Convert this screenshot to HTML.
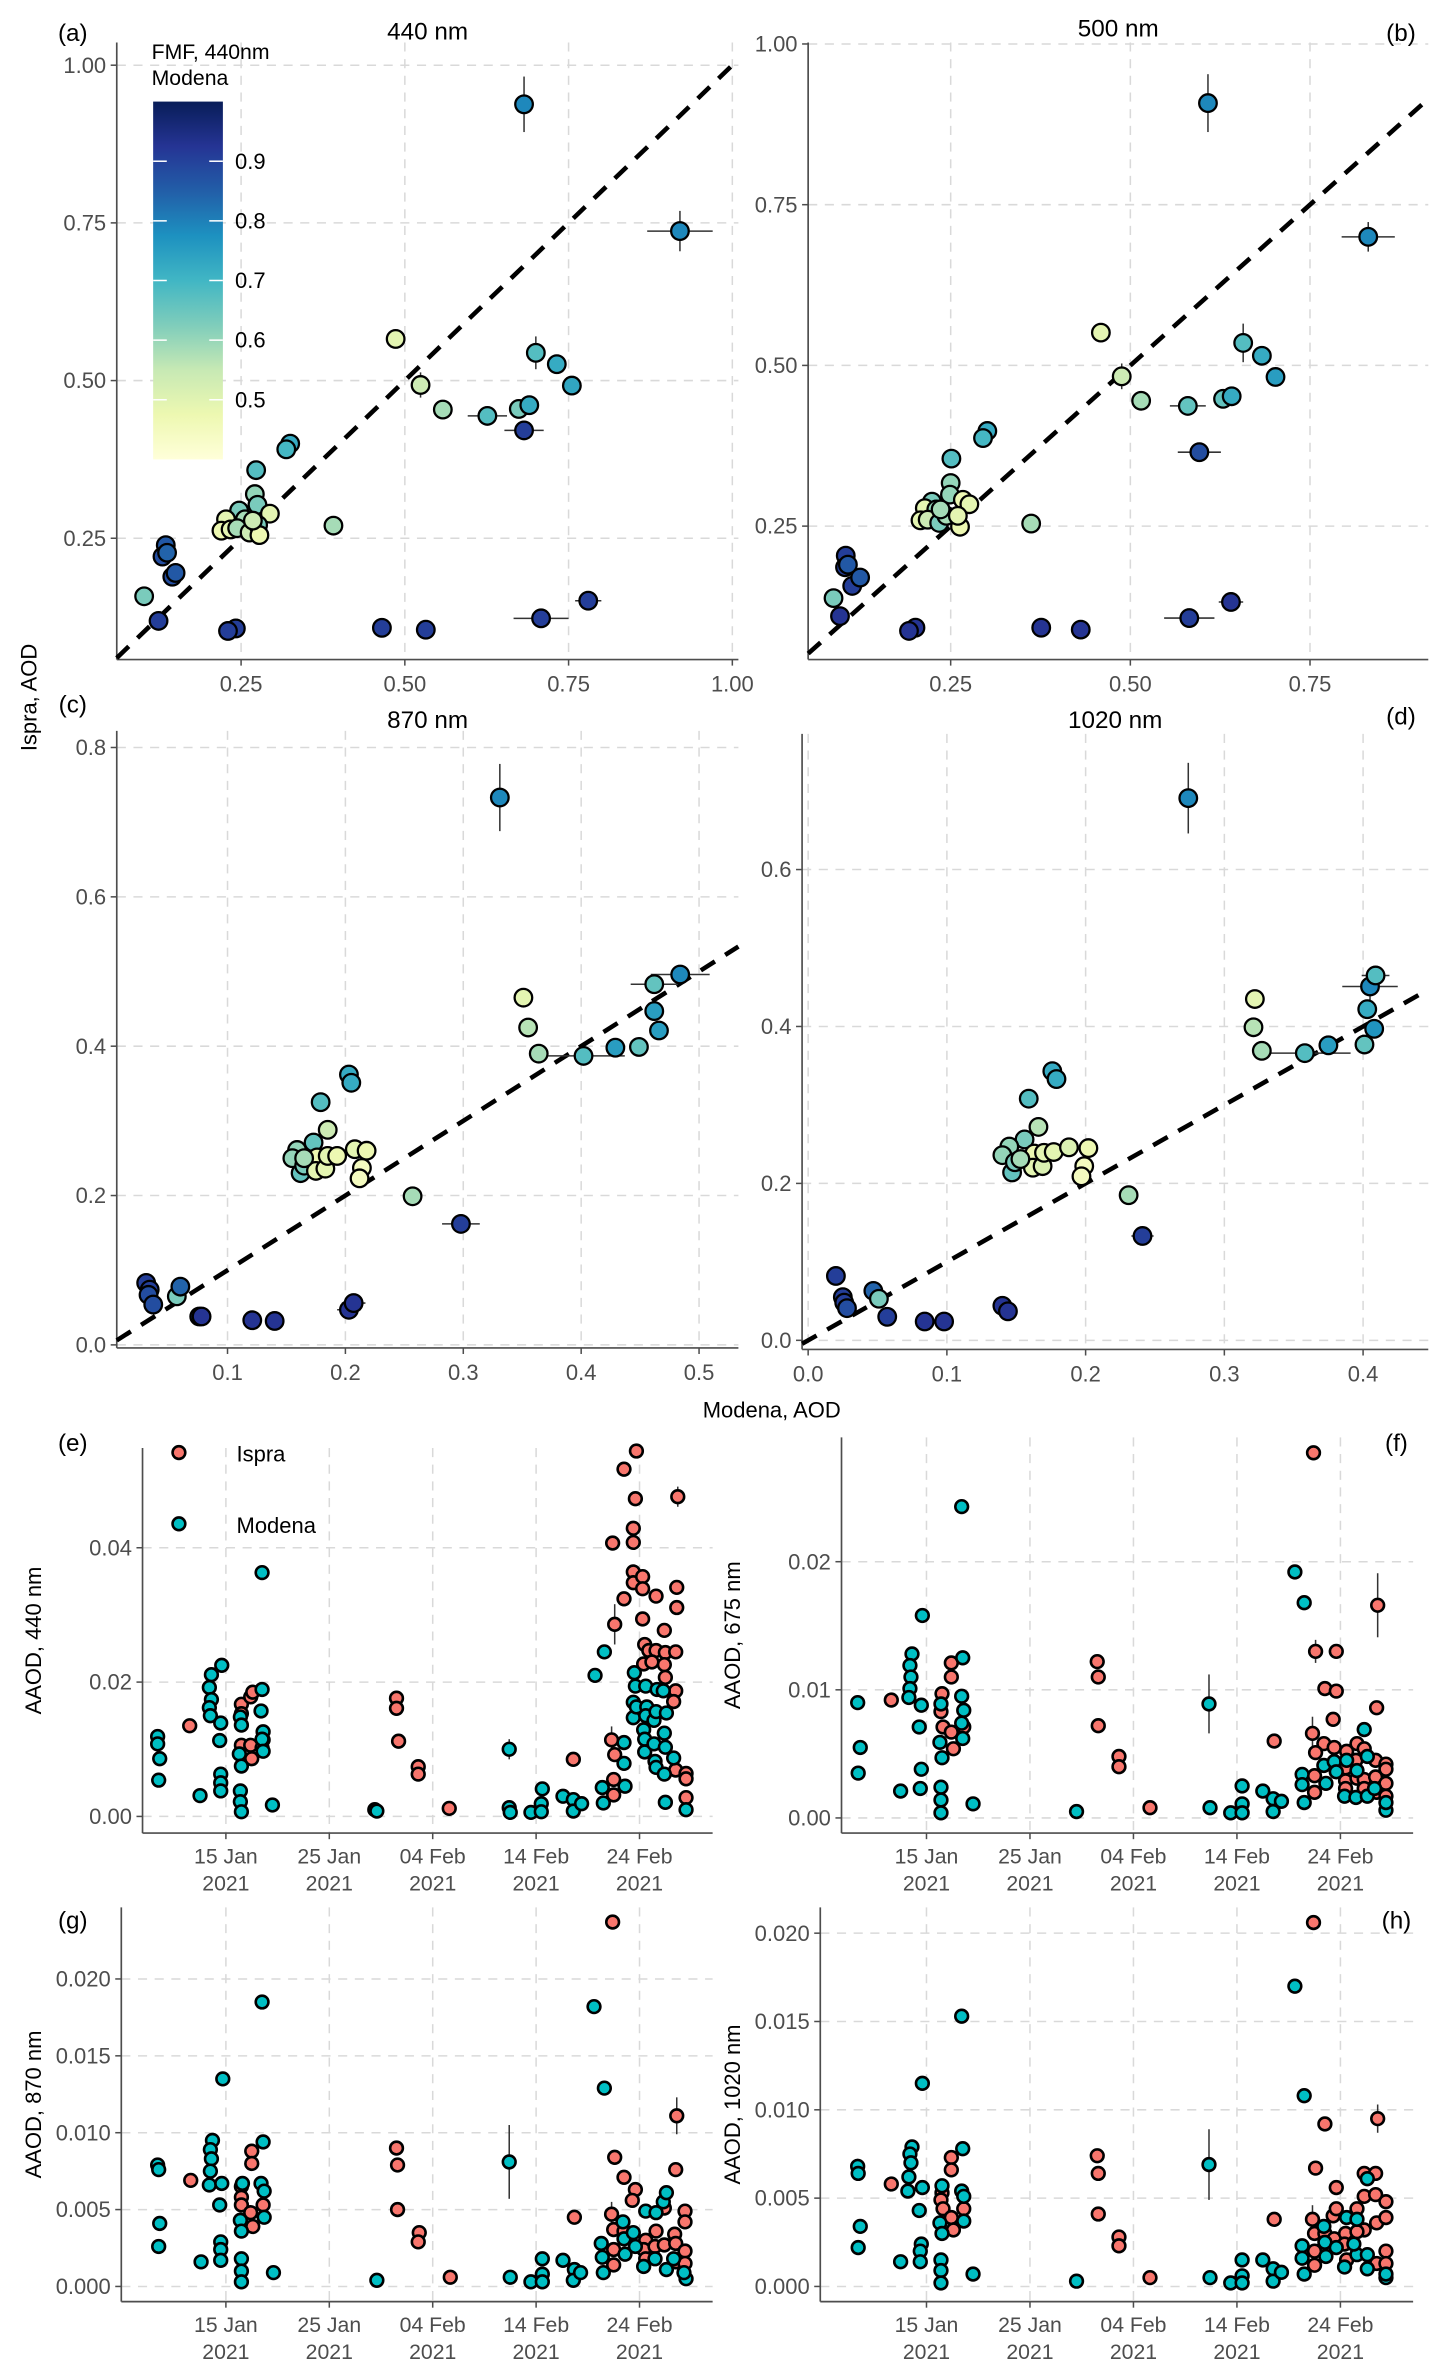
<!DOCTYPE html>
<html><head><meta charset="utf-8">
<style>
html,body{margin:0;padding:0;background:#fff;}
svg{display:block;font-family:"Liberation Sans",Arial,sans-serif;}
</style></head>
<body>
<svg id="fig" xmlns="http://www.w3.org/2000/svg" width="1448" height="2380" viewBox="0 0 955 1569.7">
<defs>
<linearGradient id="cbar" x1="0" y1="1" x2="0" y2="0">
<stop offset="0" stop-color="#ffffd9"/><stop offset="0.125" stop-color="#edf8b1"/><stop offset="0.25" stop-color="#c7e9b4"/><stop offset="0.375" stop-color="#7fcdbb"/><stop offset="0.5" stop-color="#41b6c4"/><stop offset="0.625" stop-color="#1d91c0"/><stop offset="0.75" stop-color="#225ea8"/><stop offset="0.875" stop-color="#253494"/><stop offset="1" stop-color="#081d58"/>
</linearGradient>
</defs>
<g id="root"></g>
</svg>
<script>
// ===== DATA: scatter panels [Modena AOD, Ispra AOD, FMF, xerr, yerr]
const aod440 = [[0.682,0.938,0.82,0,0.044],[0.920,0.737,0.82,0.05,0.032],[0.486,0.566,0.5],[0.524,0.493,0.55,0,0.02],[0.558,0.454,0.6],[0.700,0.544,0.7,0.01,0.026],[0.732,0.526,0.75],[0.755,0.492,0.76],[0.626,0.444,0.7,0.03],[0.674,0.455,0.65],[0.690,0.461,0.75],[0.682,0.421,0.95,0.03],[0.780,0.151,0.95,0.02],[0.708,0.123,0.95,0.042],[0.532,0.105,0.95],[0.465,0.108,0.95],[0.242,0.107,0.95],[0.230,0.103,0.95],[0.124,0.119,0.95],[0.102,0.158,0.65],[0.145,0.189,0.92],[0.150,0.195,0.9],[0.135,0.239,0.9],[0.130,0.221,0.92],[0.137,0.227,0.88],[0.325,0.400,0.75],[0.319,0.391,0.72],[0.273,0.358,0.7],[0.271,0.320,0.62],[0.275,0.303,0.65],[0.294,0.289,0.5],[0.391,0.270,0.6],[0.247,0.294,0.65],[0.227,0.280,0.5],[0.256,0.280,0.6],[0.220,0.262,0.48],[0.234,0.264,0.5],[0.244,0.266,0.6],[0.263,0.259,0.55],[0.276,0.271,0.65],[0.278,0.255,0.48],[0.268,0.278,0.55]];
const aod500 = [[0.608,0.908,0.82,0,0.045],[0.831,0.700,0.82,0.037,0.023],[0.459,0.551,0.5],[0.488,0.483,0.55,0,0.02],[0.515,0.445,0.6],[0.657,0.535,0.7,0.01,0.03],[0.683,0.515,0.75],[0.702,0.482,0.78],[0.580,0.437,0.68,0.025],[0.629,0.448,0.68],[0.641,0.452,0.75],[0.596,0.365,0.92,0.03],[0.582,0.107,0.95,0.035],[0.640,0.132,0.97,0.017],[0.376,0.092,0.97],[0.431,0.089,0.97],[0.201,0.092,0.97],[0.192,0.087,0.97],[0.096,0.110,0.97],[0.087,0.138,0.65],[0.113,0.157,0.95],[0.124,0.170,0.9],[0.104,0.204,0.95],[0.103,0.186,0.95],[0.107,0.190,0.9],[0.301,0.398,0.75],[0.295,0.387,0.72],[0.251,0.355,0.7],[0.250,0.317,0.62],[0.249,0.299,0.62],[0.267,0.291,0.48],[0.276,0.284,0.5],[0.362,0.254,0.6],[0.224,0.288,0.65],[0.214,0.278,0.5],[0.230,0.276,0.62],[0.208,0.259,0.5],[0.218,0.260,0.55],[0.234,0.255,0.65],[0.244,0.266,0.6],[0.263,0.249,0.48],[0.260,0.266,0.5],[0.236,0.276,0.6]];
const aod870 = [[0.331,0.733,0.82,0,0.045],[0.351,0.465,0.5],[0.355,0.425,0.58],[0.364,0.390,0.6],[0.402,0.387,0.7,0.035],[0.429,0.398,0.78],[0.449,0.399,0.68,0,0.01],[0.462,0.483,0.68,0.02,0.01],[0.462,0.447,0.78],[0.466,0.421,0.78],[0.484,0.496,0.82,0.025,0.01],[0.298,0.162,0.95,0.016],[0.257,0.199,0.6],[0.031,0.083,0.95],[0.034,0.074,0.95],[0.033,0.067,0.92],[0.037,0.054,0.92],[0.057,0.065,0.65],[0.060,0.078,0.88],[0.076,0.038,0.95],[0.078,0.038,0.97],[0.121,0.033,0.97],[0.140,0.032,0.97],[0.203,0.047,0.97,0.01],[0.207,0.056,0.97,0.01],[0.203,0.362,0.75],[0.205,0.351,0.75],[0.179,0.325,0.7],[0.185,0.288,0.55],[0.173,0.271,0.68],[0.159,0.261,0.62],[0.155,0.250,0.62],[0.162,0.230,0.68],[0.165,0.240,0.65],[0.176,0.251,0.48],[0.175,0.233,0.5],[0.183,0.236,0.5],[0.185,0.253,0.5],[0.193,0.253,0.48],[0.208,0.262,0.5],[0.218,0.260,0.48],[0.214,0.237,0.45],[0.212,0.223,0.45],[0.165,0.250,0.6]];
const aod1020 = [[0.274,0.691,0.82,0,0.045],[0.322,0.435,0.5],[0.321,0.399,0.58,0,0.01],[0.327,0.369,0.6],[0.358,0.366,0.7,0.033],[0.375,0.376,0.78],[0.401,0.377,0.68],[0.408,0.397,0.8],[0.403,0.422,0.75],[0.405,0.451,0.82,0.02,0.02],[0.409,0.465,0.7,0.01],[0.231,0.185,0.6],[0.241,0.133,0.95,0.008],[0.020,0.082,0.95],[0.025,0.055,0.95],[0.026,0.048,0.95],[0.028,0.041,0.92],[0.047,0.063,0.88],[0.051,0.053,0.65],[0.057,0.030,0.95],[0.084,0.024,0.97],[0.098,0.024,0.97],[0.140,0.044,0.97],[0.144,0.037,0.97],[0.176,0.343,0.75],[0.179,0.333,0.75],[0.159,0.308,0.7],[0.166,0.272,0.58],[0.156,0.256,0.65],[0.145,0.247,0.62],[0.140,0.236,0.62],[0.147,0.214,0.68],[0.149,0.227,0.65],[0.163,0.238,0.48],[0.162,0.220,0.5],[0.169,0.222,0.52],[0.170,0.239,0.5],[0.177,0.240,0.5],[0.188,0.246,0.52],[0.202,0.245,0.48],[0.199,0.222,0.45],[0.197,0.209,0.45],[0.153,0.231,0.6]];
// ===== DATA: time series [day of year (Jan 1 = 0), AAOD, err]
const ispra440 = [[10.5,0.0135],[15.5,0.0167],[15.5,0.0153],[16.4,0.0178],[16.5,0.0086],[15.5,0.0106],[16.4,0.0106],[17.5,0.0102],[16.6,0.0185],[17.6,0.0114],[30.5,0.0176],[30.5,0.0161],[30.7,0.0112],[32.6,0.0074],[32.6,0.0063],[35.6,0.0012],[47.6,0.0085],[51.4,0.0407],[52.5,0.0517],[53.7,0.0544],[53.6,0.0473],[53.4,0.0429],[53.4,0.0408],[53.4,0.0364],[53.4,0.0348],[54.3,0.0357],[54.3,0.0339],[52.5,0.0324],[51.6,0.0286,0.003],[54.3,0.0294],[55.6,0.0328],[56.4,0.0277],[57.7,0.0476,0.0015],[57.6,0.0341],[57.6,0.0311],[54.5,0.0256],[54.9,0.0247],[55.6,0.0247],[56.5,0.0244],[57.5,0.0245],[54.4,0.0227],[56.4,0.0226],[56.5,0.0207],[57.5,0.0187],[57.3,0.0171],[51.3,0.0114,0.002],[51.6,0.0092],[51.5,0.0055],[51.5,0.0032],[57.5,0.0069],[58.5,0.0064],[58.5,0.0056],[58.5,0.0028],[55.2,0.023]];
const modena440 = [[7.4,0.0119],[7.4,0.0108],[7.6,0.0086],[7.5,0.0054],[11.5,0.0031],[12.6,0.0211],[12.4,0.0192],[12.6,0.0174],[12.4,0.0162],[12.5,0.0150],[13.6,0.0225],[13.5,0.0139],[13.4,0.0113],[13.5,0.0063],[13.5,0.0050],[13.5,0.0038],[15.4,0.0148],[15.5,0.0136],[15.3,0.0093],[15.5,0.0075],[15.4,0.0038],[15.4,0.0022],[15.5,0.0007],[17.5,0.0363],[17.5,0.0189],[17.4,0.0157],[17.6,0.0126],[17.5,0.0115],[17.6,0.0097],[18.5,0.0017],[28.4,0.0010],[28.6,0.0008],[41.4,0.0100,0.0015],[41.4,0.0013],[41.5,0.0006],[43.5,0.0006],[44.6,0.0041],[44.5,0.0019],[44.5,0.0007],[46.6,0.0030],[47.6,0.0025],[47.6,0.0008],[48.4,0.0019],[49.7,0.0210],[50.6,0.0245],[50.4,0.0043],[50.5,0.0020],[52.5,0.0110],[52.5,0.0079],[52.6,0.0045],[53.5,0.0214],[53.6,0.0194],[53.4,0.0170],[53.4,0.0147],[53.7,0.0163],[54.6,0.0194],[54.7,0.0163],[54.6,0.0150],[54.4,0.0129],[54.5,0.0115],[54.5,0.0096],[55.4,0.0143],[55.4,0.0108],[55.5,0.0082],[55.6,0.0073],[55.7,0.0189],[55.6,0.0156],[56.3,0.0187],[56.4,0.0124],[56.5,0.0103],[56.4,0.0063],[56.6,0.0154],[56.5,0.0021],[57.3,0.0087],[58.5,0.0010]];
const ispra675 = [[10.6,0.0092],[15.5,0.0097],[15.4,0.0083],[15.6,0.0071],[16.4,0.0121],[16.4,0.0110],[16.4,0.0067],[16.6,0.0054],[17.6,0.0071],[30.5,0.0122],[30.6,0.0110],[30.6,0.0072],[32.6,0.0048],[32.6,0.0040],[35.6,0.0008],[47.6,0.0060],[51.4,0.0285],[51.6,0.0130,0.0009],[53.6,0.0130],[52.5,0.0101],[53.6,0.0099],[53.3,0.0077],[51.3,0.0066,0.0013],[52.4,0.0058],[51.6,0.0051],[51.5,0.0033],[51.5,0.0020],[53.4,0.0055],[54.6,0.0052],[54.5,0.0039],[54.5,0.0029],[54.5,0.0023],[55.6,0.0058],[56.3,0.0054],[55.5,0.0045],[55.6,0.0031],[56.3,0.0030],[56.3,0.0023],[57.4,0.0045],[57.4,0.0032],[57.5,0.0020],[57.6,0.0166,0.0025],[57.5,0.0086],[58.4,0.0042],[58.4,0.0038],[58.4,0.0027],[58.4,0.0017]];
const modena675 = [[7.35,0.0090],[7.6,0.0055],[7.4,0.0035],[11.5,0.0021],[12.6,0.0128],[12.4,0.0119],[12.5,0.0110],[12.4,0.0101],[12.3,0.0094],[13.6,0.0158],[13.5,0.0088],[13.3,0.0071],[13.5,0.0038],[13.4,0.0023],[15.4,0.0089],[15.3,0.0059],[15.5,0.0047],[15.4,0.0024],[15.4,0.0014],[15.4,0.0004],[17.4,0.0243],[17.5,0.0125],[17.4,0.0095],[17.6,0.0084],[17.4,0.0074],[17.5,0.0062],[18.5,0.0011],[28.5,0.0005],[41.3,0.0089,0.0023],[41.4,0.0008],[43.4,0.0004],[44.5,0.0025],[44.5,0.0011],[44.5,0.0004],[46.5,0.0021],[47.5,0.0015],[47.5,0.0005],[48.3,0.0013],[49.6,0.0192],[50.5,0.0168],[50.3,0.0034],[50.3,0.0026],[50.5,0.0012],[52.4,0.0041],[52.6,0.0027],[53.4,0.0044],[53.6,0.0036],[54.6,0.0045],[54.4,0.0017],[55.6,0.0037],[55.5,0.0016],[56.3,0.0069],[56.6,0.0048],[56.6,0.0017],[57.3,0.0023],[58.4,0.0006],[58.4,0.0012]];
const ispra870 = [[10.6,0.0069],[16.5,0.0088],[16.5,0.0080],[15.5,0.0065],[15.5,0.0058],[15.5,0.0053],[16.4,0.0048],[16.6,0.0039],[17.6,0.0053],[30.5,0.0090],[30.6,0.0079],[30.6,0.0050],[32.7,0.0035],[32.6,0.0029],[35.7,0.0006],[47.7,0.0045],[51.4,0.0237],[51.6,0.0084],[52.5,0.0071],[53.6,0.0063],[53.3,0.0056],[51.3,0.0047,0.0008],[51.5,0.0037],[51.5,0.0024],[51.5,0.0014],[52.5,0.0036],[54.6,0.0030],[54.4,0.0024],[54.6,0.0018],[55.6,0.0036],[55.5,0.0026],[56.4,0.0051],[56.4,0.0027],[57.4,0.0034],[57.5,0.0028],[57.5,0.0016],[57.6,0.0111,0.0012],[57.5,0.0076],[58.4,0.0049],[58.4,0.0042],[58.4,0.0023],[58.4,0.0015]];
const modena870 = [[7.4,0.0079],[7.5,0.0076],[7.6,0.0041],[7.5,0.0026],[11.6,0.0016],[12.7,0.0095],[12.5,0.0089],[12.6,0.0083],[12.5,0.0075],[12.4,0.0066],[13.7,0.0135],[13.6,0.0067],[13.4,0.0053],[13.5,0.0029],[13.5,0.0024],[13.5,0.0017],[15.6,0.0067],[15.4,0.0043],[15.5,0.0036],[15.5,0.0018],[15.5,0.0010],[15.5,0.0003],[17.5,0.0185],[17.6,0.0094],[17.4,0.0067],[17.7,0.0062],[17.7,0.0045],[18.6,0.0009],[28.6,0.0004],[41.4,0.0081,0.0024],[41.5,0.0006],[43.5,0.0003],[44.6,0.0018],[44.6,0.0008],[44.6,0.0003],[46.6,0.0017],[47.7,0.0011],[47.6,0.0004],[48.3,0.0009],[49.6,0.0182],[50.6,0.0129],[50.3,0.0028],[50.4,0.0019],[50.5,0.0009],[52.4,0.0042],[52.5,0.0031],[52.6,0.0021],[53.4,0.0035],[53.6,0.0026],[54.6,0.0049],[54.4,0.0013],[55.6,0.0048],[55.5,0.0018],[56.3,0.0055],[56.6,0.0061],[56.6,0.0011],[57.3,0.0018],[58.5,0.0005],[58.3,0.0009]];
const ispra1020 = [[10.6,0.0058],[16.4,0.0073],[16.4,0.0066],[15.5,0.0053],[15.4,0.0049],[15.6,0.0044],[16.4,0.0039],[16.6,0.0032],[17.6,0.0044],[30.5,0.0074],[30.6,0.0064],[30.6,0.0041],[32.6,0.0028],[32.6,0.0023],[35.6,0.0005],[47.6,0.0038],[51.4,0.0206],[51.6,0.0067],[52.5,0.0092],[53.6,0.0056],[51.3,0.0038,0.0008],[51.5,0.0030],[51.5,0.0020],[51.5,0.0012],[53.3,0.0040],[53.6,0.0044],[52.5,0.0030],[53.4,0.0027],[54.5,0.0030],[54.4,0.0024],[54.6,0.0015],[55.6,0.0044],[56.3,0.0051],[56.3,0.0064],[56.3,0.0032],[55.6,0.0031],[57.4,0.0064],[57.4,0.0052],[57.6,0.0095,0.0008],[57.5,0.0036],[57.5,0.0013],[58.4,0.0048],[58.4,0.0039],[58.4,0.0020],[58.4,0.0013]];
const modena1020 = [[7.35,0.0068],[7.4,0.0064],[7.6,0.0034],[7.4,0.0022],[11.5,0.0014],[12.6,0.0079],[12.4,0.0075],[12.5,0.0070],[12.3,0.0062],[12.2,0.0054],[13.6,0.0115],[13.6,0.0056],[13.3,0.0043],[13.5,0.0024],[13.4,0.0020],[13.4,0.0014],[15.5,0.0057],[15.3,0.0036],[15.5,0.0030],[15.4,0.0015],[15.4,0.0009],[15.4,0.0002],[17.4,0.0153],[17.5,0.0078],[17.4,0.0054],[17.6,0.0051],[17.6,0.0037],[18.5,0.0007],[28.5,0.0003],[41.3,0.0069,0.002],[41.4,0.0005],[43.4,0.0002],[44.5,0.0015],[44.5,0.0006],[44.5,0.0002],[46.5,0.0015],[47.5,0.0010],[47.5,0.0003],[48.3,0.0008],[49.6,0.0170],[50.5,0.0108],[50.3,0.0023],[50.3,0.0016],[50.5,0.0007],[52.4,0.0034],[52.5,0.0025],[52.6,0.0017],[53.6,0.0022],[54.6,0.0039],[54.4,0.0011],[55.6,0.0038],[55.6,0.0018],[55.3,0.0024],[56.6,0.0061],[56.6,0.0018],[56.6,0.0010],[58.4,0.0005],[58.4,0.0007]];
// tick labels
const dateTicks = [14,24,34,44,54];
const dateLabels = ["15 Jan","25 Jan","04 Feb","14 Feb","24 Feb"];
const cbarTicks = [0.5,0.6,0.7,0.8,0.9];

const NS="http://www.w3.org/2000/svg";
const root=document.getElementById('root');
function el(tag,attrs,parent){const e=document.createElementNS(NS,tag);for(const k in attrs)e.setAttribute(k,attrs[k]);(parent||root).appendChild(e);return e;}
function txt(s,x,y,size,fill,anchor,parent,rot){const t=el('text',{x:x,y:y,'font-size':size,fill:fill,'text-anchor':anchor||'middle'},parent);if(rot)t.setAttribute('transform','rotate(-90 '+x+' '+y+')');t.textContent=s;return t;}
const stops=['#ffffd9','#edf8b1','#c7e9b4','#7fcdbb','#41b6c4','#1d91c0','#225ea8','#253494','#081d58'];
const CMIN=0.4, CMAX=1.05;
function hex(c){return [parseInt(c.substr(1,2),16),parseInt(c.substr(3,2),16),parseInt(c.substr(5,2),16)];}
function fmfColor(v){let t=(v-CMIN)/(CMAX-CMIN)*8;t=Math.max(0,Math.min(8,t));const i=Math.min(7,Math.floor(t));const f=t-i;const a=hex(stops[i]),b=hex(stops[i+1]);return 'rgb('+a.map((x,k)=>Math.round(x+(b[k]-x)*f)).join(',')+')';}

function panel(P){
  const g=el('g',{});
  
  
  const sx=v=>P.x0+P.xs*v, sy=v=>P.y0-P.ys*v;
  P.xticks.forEach((v,i)=>{const x=sx(v);const l=el('line',{x1:x,x2:x,y1:P.T,y2:P.B,stroke:'#d9d9d9','stroke-width':1,'stroke-dasharray':'6,5'},g);
    const t=txt(P.xlab[i],x,P.B+(P.ts?20:21),P.ts?14:14.5,'#4d4d4d','middle',g);
    el('line',{x1:x,x2:x,y1:P.B,y2:P.B+4,stroke:'#4d4d4d','stroke-width':1},g);
    if(P.ts){const t2=txt('2021',x,P.B+38,14,'#4d4d4d','middle',g);}
  });
  P.yticks.forEach((v,i)=>{const y=sy(v);const l=el('line',{x1:P.L,x2:P.R,y1:y,y2:y,stroke:'#d9d9d9','stroke-width':1,'stroke-dasharray':'6,5'},g);
    const t=txt(P.ylab[i],P.L-7,y+5,14.5,'#4d4d4d','end',g);
    el('line',{x1:P.L-4,x2:P.L,y1:y,y2:y,stroke:'#4d4d4d','stroke-width':1},g);
  });
  el('line',{x1:P.L,x2:P.L,y1:P.T,y2:P.B,stroke:'#4d4d4d','stroke-width':1.1},g);
  el('line',{x1:P.L,x2:P.R,y1:P.B,y2:P.B,stroke:'#4d4d4d','stroke-width':1.1},g);
  if(P.diag){const vmin=Math.max((P.L-P.x0)/P.xs,(P.y0-P.B)/P.ys),vmax=Math.min((P.R-P.x0)/P.xs,(P.y0-P.T)/P.ys);
    const d=el('line',{x1:sx(vmin),y1:sy(vmin),x2:sx(vmax),y2:sy(vmax),stroke:'#000','stroke-width':3,'stroke-dasharray':'11,8'},g);
    }
  P.series.forEach(S=>{
    S.data.forEach(p=>{
      const cx=sx(p[0]),cy=sy(p[1]);
      if(S.ts){ if(p[2]) el('line',{x1:cx,x2:cx,y1:sy(p[1]-p[2]),y2:sy(p[1]+p[2]),stroke:'#333','stroke-width':1},g);}
      else{ if(p[3]) el('line',{x1:sx(p[0]-p[3]),x2:sx(p[0]+p[3]),y1:cy,y2:cy,stroke:'#333','stroke-width':1},g);
            if(p[4]) el('line',{x1:cx,x2:cx,y1:sy(p[1]-p[4]),y2:sy(p[1]+p[4]),stroke:'#333','stroke-width':1},g);}
    });
    S.data.forEach(p=>{
      const c=el('circle',{cx:sx(p[0]),cy:sy(p[1]),r:S.r,fill:S.ts?S.color:fmfColor(p[2]),stroke:'#000','stroke-width':S.ts?1.7:1.5},g);
      
      
    });
  });
  const tl=txt(P.tag,P.tagX,P.tagY,16,'#000','middle',g);
  if(P.title){const tt=txt(P.title,(P.L+P.R)/2,P.titleY,16,'#000','middle',g);}
  if(P.ytitle){const yt=txt(P.ytitle,P.ytX,(P.T+P.B)/2,14.5,'#000','middle',g,true);}
}
const f2=v=>v.toFixed(2), f1=v=>v.toFixed(1), f3=v=>v.toFixed(3);
panel({name:'panel-a-440nm',L:77,R:487,T:28,B:435,x0:51,xs:432,y0:459,ys:416,xticks:[0.25,0.5,0.75,1],xlab:[0.25,0.5,0.75,1].map(f2),yticks:[0.25,0.5,0.75,1],ylab:[0.25,0.5,0.75,1].map(f2),diag:true,tag:'(a)',tagX:48,tagY:27,title:'440 nm',titleY:26,series:[{data:aod440,r:5.8,pname:'aod-point'}]});
panel({name:'panel-b-500nm',L:533,R:942,T:28,B:435,x0:508.5,xs:474,y0:453,ys:424,xticks:[0.25,0.5,0.75],xlab:[0.25,0.5,0.75].map(f2),yticks:[0.25,0.5,0.75,1],ylab:[0.25,0.5,0.75,1].map(f2),diag:true,tag:'(b)',tagX:924,tagY:27,title:'500 nm',titleY:24,series:[{data:aod500,r:5.8,pname:'aod-point'}]});
panel({name:'panel-c-870nm',L:77,R:487,T:482,B:889,x0:72.3,xs:777.5,y0:887,ys:492.5,xticks:[0.1,0.2,0.3,0.4,0.5],xlab:[0.1,0.2,0.3,0.4,0.5].map(f1),yticks:[0,0.2,0.4,0.6,0.8],ylab:[0,0.2,0.4,0.6,0.8].map(f1),diag:true,tag:'(c)',tagX:48,tagY:470,title:'870 nm',titleY:480,series:[{data:aod870,r:5.8,pname:'aod-point'}]});
panel({name:'panel-d-1020nm',L:529,R:942,T:484,B:890,x0:533,xs:915,y0:884,ys:517.5,xticks:[0,0.1,0.2,0.3,0.4],xlab:[0,0.1,0.2,0.3,0.4].map(f1),yticks:[0,0.2,0.4,0.6],ylab:[0,0.2,0.4,0.6].map(f1),diag:true,tag:'(d)',tagX:924,tagY:478,title:'1020 nm',titleY:480,series:[{data:aod1020,r:5.8,pname:'aod-point'}]});
function tsSeries(isp,mod){return [{data:isp,r:4.2,ts:true,color:'#F8766D',pname:'ispra-point'},{data:mod,r:4.2,ts:true,color:'#00BFC4',pname:'modena-point'}];}
const xsE=6.82;
panel({name:'panel-e-aaod-440',ts:true,L:94,R:470,T:955,B:1209,x0:53.5,xs:xsE,y0:1198,ys:4430,xticks:dateTicks,xlab:dateLabels,yticks:[0,0.02,0.04],ylab:[0,0.02,0.04].map(f2),tag:'(e)',tagX:48,tagY:957,ytitle:'AAOD, 440 nm',ytX:27,series:tsSeries(ispra440,modena440)});
panel({name:'panel-f-aaod-675',ts:true,L:555,R:932,T:948,B:1209,x0:515.5,xs:6.825,y0:1199,ys:8450,xticks:dateTicks,xlab:dateLabels,yticks:[0,0.01,0.02],ylab:[0,0.01,0.02].map(f2),tag:'(f)',tagX:921,tagY:957,ytitle:'AAOD, 675 nm',ytX:488,series:tsSeries(ispra675,modena675)});
panel({name:'panel-g-aaod-870',ts:true,L:80,R:470,T:1258,B:1518,x0:53.5,xs:xsE,y0:1508,ys:10140,xticks:dateTicks,xlab:dateLabels,yticks:[0,0.005,0.01,0.015,0.02],ylab:[0,0.005,0.01,0.015,0.02].map(f3),tag:'(g)',tagX:48,tagY:1272,ytitle:'AAOD, 870 nm',ytX:27,series:tsSeries(ispra870,modena870)});
panel({name:'panel-h-aaod-1020',ts:true,L:541,R:932,T:1258,B:1518,x0:515.5,xs:6.825,y0:1508,ys:11650,xticks:dateTicks,xlab:dateLabels,yticks:[0,0.005,0.01,0.015,0.02],ylab:[0,0.005,0.01,0.015,0.02].map(f3),tag:'(h)',tagX:921,tagY:1272,ytitle:'AAOD, 1020 nm',ytX:488,series:tsSeries(ispra1020,modena1020)});

const ya=txt('Ispra, AOD',24,460,14.5,'#000','middle',root,true);


const xa=txt('Modena, AOD',509,935,14.5,'#000','middle');



const cb=el('g',{});


txt('FMF, 440nm',100,39,14,'#000','start',cb);
txt('Modena',100,56,14,'#000','start',cb);
el('rect',{x:101,y:67,width:46,height:236,fill:'url(#cbar)'},cb);
cbarTicks.forEach(v=>{const y=303-(v-0.4)/0.6*236;
  el('line',{x1:101,x2:110,y1:y,y2:y,stroke:'#fff','stroke-width':1},cb);
  el('line',{x1:138,x2:147,y1:y,y2:y,stroke:'#fff','stroke-width':1},cb);
  const t=txt(v.toFixed(1),155,y+5,14.5,'#000','start',cb);});

const lg=el('g',{});


el('circle',{cx:118,cy:958,r:4.2,fill:'#F8766D',stroke:'#000','stroke-width':1.7},lg);
txt('Ispra',156,964,14.5,'#000','start',lg);
el('circle',{cx:118,cy:1005,r:4.2,fill:'#00BFC4',stroke:'#000','stroke-width':1.7},lg);
txt('Modena',156,1011,14.5,'#000','start',lg);
</script>
</body></html>
